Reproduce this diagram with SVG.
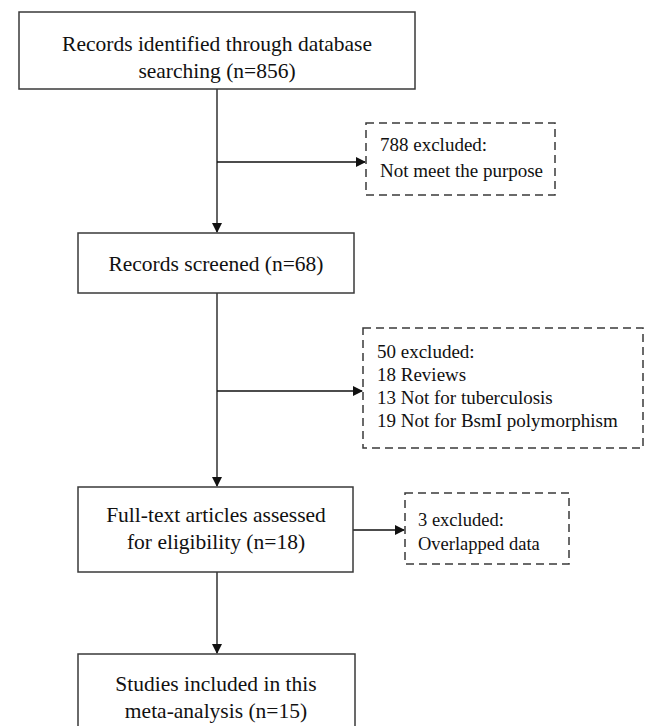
<svg xmlns="http://www.w3.org/2000/svg" width="645" height="726" viewBox="0 0 645 726">
<style>
.box{fill:#fff;stroke:#3a3a3a;stroke-width:1.5}
.dash{fill:#fff;stroke:#3a3a3a;stroke-width:1.5;stroke-dasharray:8 5}
.t{font-family:"Liberation Serif","Times New Roman",serif;font-size:21.5px;fill:#111;text-anchor:middle}
.s{font-family:"Liberation Serif","Times New Roman",serif;font-size:19px;fill:#111}
.ln{stroke:#111;stroke-width:1.3;fill:none}
</style>
<defs>
<marker id="ah" markerWidth="10" markerHeight="10" refX="9" refY="5" orient="auto" markerUnits="userSpaceOnUse">
<path d="M0,0 L10,5 L0,10 Z" fill="#111"/>
</marker>
</defs>
<rect width="645" height="726" fill="#fff"/>
<g id="connectors">
<line class="ln" x1="217" y1="89" x2="217" y2="232" marker-end="url(#ah)"/>
<line class="ln" x1="217" y1="162" x2="365" y2="162" marker-end="url(#ah)"/>
<line class="ln" x1="217" y1="293" x2="217" y2="486" marker-end="url(#ah)"/>
<line class="ln" x1="217" y1="391" x2="362" y2="391" marker-end="url(#ah)"/>
<line class="ln" x1="217" y1="572" x2="217" y2="653" marker-end="url(#ah)"/>
<line class="ln" x1="353" y1="530" x2="404" y2="530" marker-end="url(#ah)"/>
</g>
<g id="n1">
<rect class="box" x="19" y="12" width="396" height="77"/>
<text class="t" x="217" y="51">Records identified through database</text>
<text class="t" x="217" y="78">searching (n=856)</text>
</g>
<g id="x1">
<rect class="dash" x="366" y="123" width="189" height="72"/>
<text class="s" x="380" y="151">788 excluded:</text>
<text class="s" x="380" y="177">Not meet the purpose</text>
</g>
<g id="n2">
<rect class="box" x="78" y="233" width="276" height="60"/>
<text class="t" x="216" y="271">Records screened (n=68)</text>
</g>
<g id="x2">
<rect class="dash" x="363" y="328" width="280" height="120"/>
<text class="s" x="377" y="358">50 excluded:</text>
<text class="s" x="377" y="381">18 Reviews</text>
<text class="s" x="377" y="404">13 Not for tuberculosis</text>
<text class="s" x="377" y="427">19 Not for BsmI polymorphism</text>
</g>
<g id="n3">
<rect class="box" x="78" y="487" width="275" height="85"/>
<text class="t" x="216" y="522">Full-text articles assessed</text>
<text class="t" x="216" y="549">for eligibility (n=18)</text>
</g>
<g id="x3">
<rect class="dash" x="405" y="493" width="164" height="71"/>
<text class="s" x="418" y="526" style="font-size:18.5px">3 excluded:</text>
<text class="s" x="418" y="550" style="font-size:18.5px">Overlapped data</text>
</g>
<g id="n4">
<rect class="box" x="78" y="654" width="277" height="80"/>
<text class="t" x="216" y="691">Studies included in this</text>
<text class="t" x="216" y="718">meta-analysis (n=15)</text>
</g>
</svg>
